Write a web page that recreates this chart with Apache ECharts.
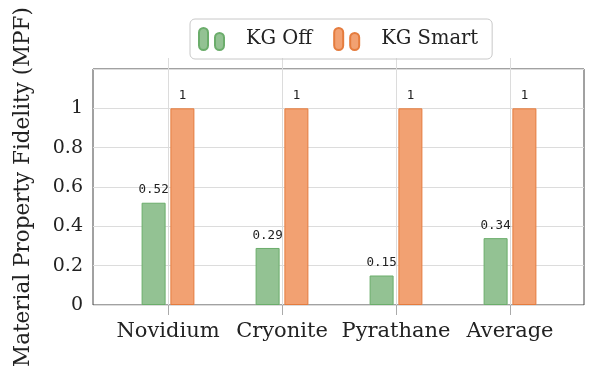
<!DOCTYPE html>
<html><head><meta charset="utf-8">
<script src="https://cdn.jsdelivr.net/npm/echarts@6/dist/echarts.min.js"></script>
<style>html,body{margin:0;padding:0;background:#fff}#c{width:590px;height:373px}</style>
</head><body><div id="c"></div>
<script>
var categories = ["Novidium", "Cryonite", "Pyrathane", "Average"];
var kgOff = [0.52, 0.29, 0.15, 0.34];
var kgSmart = [1, 1, 1, 1];
var yTicks = [0, 0.2, 0.4, 0.6, 0.8, 1];

var serif = '"DejaVu Serif", "Liberation Serif", serif';
var pill = 'path://M0,4.5 A4.5,4.5 0 0 1 9,4.5 L9,17.5 A4.5,4.5 0 0 1 0,17.5 Z M16,9.5 A4.5,4.5 0 0 1 25,9.5 L25,17.5 A4.5,4.5 0 0 1 16,17.5 Z';

var chart = echarts.init(document.getElementById('c'), null, {renderer: 'canvas'});
var lbl = {show: true, position: 'top', distance: 6, fontFamily: '"DejaVu Sans Mono", "Liberation Mono", monospace', fontSize: 12.5, color: '#222',
  formatter: function (p) { return String(p.value); }};
chart.setOption({
  animation: false,
  legend: {
    top: 19, left: 190,
    data: ['KG Off', 'KG Smart'],
    icon: pill, itemWidth: 25, itemHeight: 22, itemGap: 21,
    padding: [8, 14, 8, 8],
    borderColor: '#c8c8c8', borderWidth: 1, borderRadius: 5,
    textStyle: {fontFamily: serif, fontSize: 19.5, color: '#222', padding: [0, 0, 0, 17]}
  },
  grid: [
    {left: 93, right: 6, top: 69, bottom: 68, show: true, borderColor: '#444', borderWidth: 1, containLabel: false},
    {left: 111, right: 23, top: 69, bottom: 68, containLabel: false}
  ],
  xAxis: [
    {gridIndex: 0, type: 'value', show: false, min: 0, max: 1},
    {gridIndex: 1, type: 'category', data: categories, boundaryGap: true, show: true,
     axisLine: {show: true, onZero: false, lineStyle: {opacity: 0}},
     axisTick: {show: true, alignWithLabel: true, interval: 0, length: 10, lineStyle: {color: '#aaa'}},
     axisLabel: {interval: 0, fontFamily: serif, fontSize: 21, color: '#222', margin: 16}},
    {gridIndex: 1, type: 'category', data: categories, position: 'top', offset: 11, boundaryGap: true, show: true,
     axisLine: {show: true, onZero: false, lineStyle: {opacity: 0}}, axisLabel: {show: false, interval: 0},
     axisTick: {show: true, alignWithLabel: true, interval: 0, inside: true, length: 247, lineStyle: {color: '#dcdcdc'}}}
  ],
  yAxis: [
    {gridIndex: 0, type: 'value', min: 0, max: 1.2, interval: 0.2,
     name: 'Material Property Fidelity (MPF)', nameLocation: 'middle', nameGap: 59,
     nameTextStyle: {fontFamily: serif, fontSize: 21.5, color: '#222'},
     axisLine: {show: false}, axisTick: {show: false},
     axisLabel: {fontFamily: serif, fontSize: 19, color: '#222', margin: 10,
       formatter: function (v) { var r = Math.round(v * 10) / 10; return yTicks.indexOf(r) >= 0 ? String(r) : ''; }},
     splitLine: {lineStyle: {color: '#dcdcdc'}}},
    {gridIndex: 1, type: 'value', min: 0, max: 1.2, show: false}
  ],
  series: [
    {name: 'KG Off', type: 'bar', xAxisIndex: 1, yAxisIndex: 1, data: kgOff, barWidth: 24, barGap: '20%',
     itemStyle: {color: '#93c293', borderColor: '#6bad6b', borderWidth: 1}, label: lbl},
    {name: 'KG Smart', type: 'bar', xAxisIndex: 1, yAxisIndex: 1, data: kgSmart, barWidth: 24,
     itemStyle: {color: '#f2a172', borderColor: '#e57c3e', borderWidth: 1}, label: lbl}
  ]
});
</script></body></html>
